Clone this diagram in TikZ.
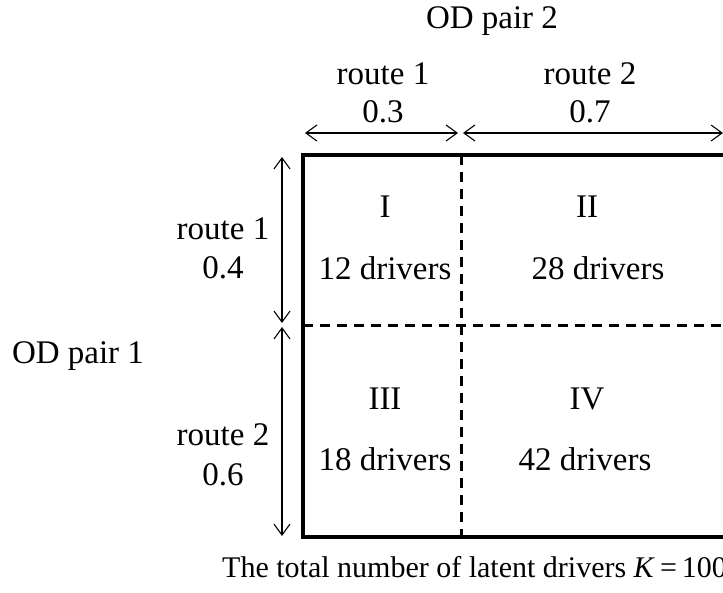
\documentclass[tikz,border=0pt]{standalone}
\usepackage{fontspec}
\setmainfont{Liberation Serif}
\usetikzlibrary{arrows.meta}
\begin{document}
\begin{tikzpicture}[x=1pt,y=-1pt,
  lbl/.style={anchor=base,inner sep=0pt,font=\fontsize{33}{36}\selectfont},
  note/.style={anchor=base west,inner sep=0pt,font=\fontsize{30}{33}\selectfont},
  frame/.style={line width=4pt},
  divider/.style={line width=3pt,dash pattern=on 10pt off 7pt},
  dim/.style={line width=1.1pt,{Straight Barb[length=11pt,width=16pt]}-{Straight Barb[length=11pt,width=16pt]}}]
  \clip (0,0) rectangle (723,592);
  \useasboundingbox (0,0) rectangle (723,592);

  % grid corners
  \coordinate (tl) at (303,155);
  \coordinate (tr) at (727,155);
  \coordinate (bl) at (303,537);
  \coordinate (br) at (727,537);
  \coordinate (vt) at (461,155);
  \coordinate (vb) at (461,537);
  \coordinate (hl) at (303,325);
  \coordinate (hr) at (727,325);

  % dimension arrow end points
  \coordinate (a0) at (305,133);
  \coordinate (a1) at (458,133);
  \coordinate (a2) at (463,133);
  \coordinate (a3) at (723,133);
  \coordinate (b0) at (282,157);
  \coordinate (b1) at (282,323);
  \coordinate (b2) at (282,327);
  \coordinate (b3) at (282,536);

  % outer frame and dashed dividers
  \draw[frame] (tr) -- (tl) -- (bl) -- (br);
  \draw[divider] (vt) -- (vb);
  \draw[divider] (hl) -- (hr);

  % dimension arrows
  \draw[dim] (a0) -- (a1);
  \draw[dim] (a2) -- (a3);
  \draw[dim] (b0) -- (b1);
  \draw[dim] (b2) -- (b3);

  % headers
  \node[lbl] (od2) at (492,28) {OD pair 2};
  \node[lbl] (c1) at (383,84) {route 1};
  \node[lbl] (c1v) at (383,122) {0.3};
  \node[lbl] (c2) at (590,84) {route 2};
  \node[lbl] (c2v) at (590,122) {0.7};
  \node[lbl] (od1) at (78,363) {OD pair 1};
  \node[lbl] (r1) at (223,239) {route 1};
  \node[lbl] (r1v) at (223,278) {0.4};
  \node[lbl] (r2) at (223,445) {route 2};
  \node[lbl] (r2v) at (223,485) {0.6};

  % cells
  \node[lbl] (q1) at (385,217) {I};
  \node[lbl] (q1n) at (385,279) {12 drivers};
  \node[lbl] (q2) at (587,217) {II};
  \node[lbl] (q2n) at (598,279) {28 drivers};
  \node[lbl] (q3) at (385,409) {III};
  \node[lbl] (q3n) at (385,470) {18 drivers};
  \node[lbl] (q4) at (587,409) {IV};
  \node[lbl] (q4n) at (585,470) {42 drivers};

  % caption
  \node[note] (cap) at (222,577) {The total number of latent drivers \textit{K}\,=\,100};
\end{tikzpicture}
\end{document}
